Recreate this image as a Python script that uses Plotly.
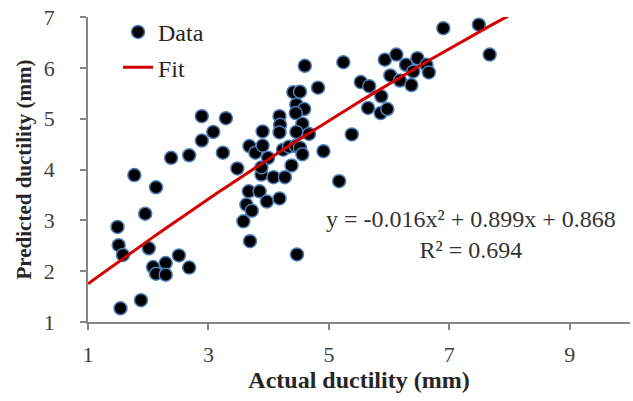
import numpy as np
import plotly.graph_objects as go

# Measured data (Actual vs Predicted ductility, mm)
actual = [1.77, 2.13, 1.95, 1.49, 1.51, 1.58, 2.01, 2.08, 2.13, 2.29, 2.29, 2.51, 2.68, 1.88, 1.54,
          2.89, 3.29, 3.08, 2.89, 2.38, 2.68, 3.24, 3.48, 3.90, 3.68, 3.78, 3.90, 3.88, 3.67, 3.85, 3.63,
          4.46, 4.59, 4.45, 4.18, 4.19, 4.56, 4.18, 4.46, 4.67, 5.65, 5.38, 4.24, 4.34, 4.45, 4.52, 4.56,
          4.91, 3.99, 4.38, 4.08, 4.27, 5.17, 3.97, 4.18, 3.72, 3.58, 3.69, 4.47, 3.88,
          6.90, 7.49, 7.67, 5.24, 5.93, 6.12, 6.28, 6.47, 6.40, 6.62, 6.66, 6.02, 6.18, 6.37, 5.53, 5.67,
          5.87, 5.86, 5.97, 4.60, 4.82, 4.41, 4.52]
predicted = [3.89, 3.65, 3.13, 2.87, 2.51, 2.32, 2.45, 2.08, 1.95, 2.16, 1.93, 2.31, 2.07, 1.43, 1.27,
             5.05, 5.01, 4.74, 4.57, 4.23, 4.28, 4.33, 4.02, 4.75, 4.46, 4.33, 4.47, 3.90, 3.57, 3.57, 3.31,
             5.28, 5.19, 5.11, 5.05, 4.88, 4.90, 4.73, 4.74, 4.70, 5.21, 4.69, 4.39, 4.45, 4.46, 4.43, 4.30,
             4.36, 4.23, 4.08, 3.85, 3.85, 3.77, 3.37, 3.43, 3.19, 2.98, 2.59, 2.33, 4.04,
             6.78, 6.85, 6.26, 6.11, 6.16, 6.26, 6.06, 6.19, 5.93, 6.06, 5.91, 5.85, 5.75, 5.66, 5.72, 5.64,
             5.44, 5.11, 5.19, 6.04, 5.61, 5.52, 5.53]

# Fitted polynomial shown on the chart: y = a x^2 + b x + c
fit_coeffs = [-0.016, 0.899, 0.868]
fit_x = np.linspace(1, 8.2, 80)
fit_y = np.polyval(fit_coeffs, fit_x)

x_ticks = [1, 3, 5, 7, 9]
y_ticks = [1, 2, 3, 4, 5, 6, 7]

SERIF = "Liberation Serif, Times New Roman, serif"

fig = go.Figure()
fig.add_trace(go.Scatter(
    x=actual, y=predicted, mode="markers", name="Data", legendgroup="a",
    marker=dict(size=13, color="black", line=dict(color="#4a7ebb", width=1.5)),
))
fig.add_trace(go.Scatter(
    x=fit_x, y=fit_y, mode="lines", name="Fit", legendgroup="b",
    line=dict(color="#d40000", width=3),
))

fig.add_annotation(
    x=0.707, y=0.287, xref="paper", yref="paper", showarrow=False,
    xanchor="center", yanchor="middle",
    text="y = -0.016x² + 0.899x + 0.868<br>R² = 0.694",
    align="center", font=dict(family=SERIF, size=24, color="#333333"),
)

axis_common = dict(
    showline=True, linecolor="#868686", linewidth=1.5, showgrid=False, zeroline=False,
    ticks="outside", tickcolor="#868686", ticklen=6, tickwidth=1.5,
    ticklabeloverflow="allow",
    tickfont=dict(family=SERIF, size=22, color="#404040"),
)

fig.update_layout(
    width=633, height=401,
    margin=dict(l=88, r=3, t=17, b=79, autoexpand=False),
    paper_bgcolor="white", plot_bgcolor="white",
    showlegend=True,
    legend=dict(x=0.0554, y=1.0235, xanchor="left", yanchor="top", bgcolor="rgba(0,0,0,0)",
                font=dict(family=SERIF, size=24, color="#262626"), tracegroupgap=1),
    xaxis=dict(range=[1, 10], tickvals=x_ticks, ticklabelstandoff=6,
               title=dict(text="<b>Actual ductility (mm)</b>", standoff=4,
                          font=dict(family=SERIF, size=24, color="#262626")),
               **axis_common),
    yaxis=dict(range=[1, 7], tickvals=y_ticks, ticklabelstandoff=21,
               title=dict(text="<b>Predicted ductility (mm)</b>", standoff=6,
                          font=dict(family=SERIF, size=21, color="#262626")),
               **axis_common),
)

fig.write_html(
    "out.html",
    config={"displayModeBar": False},
    post_script="document.body.style.margin='0';document.body.style.overflow='hidden';",
)
